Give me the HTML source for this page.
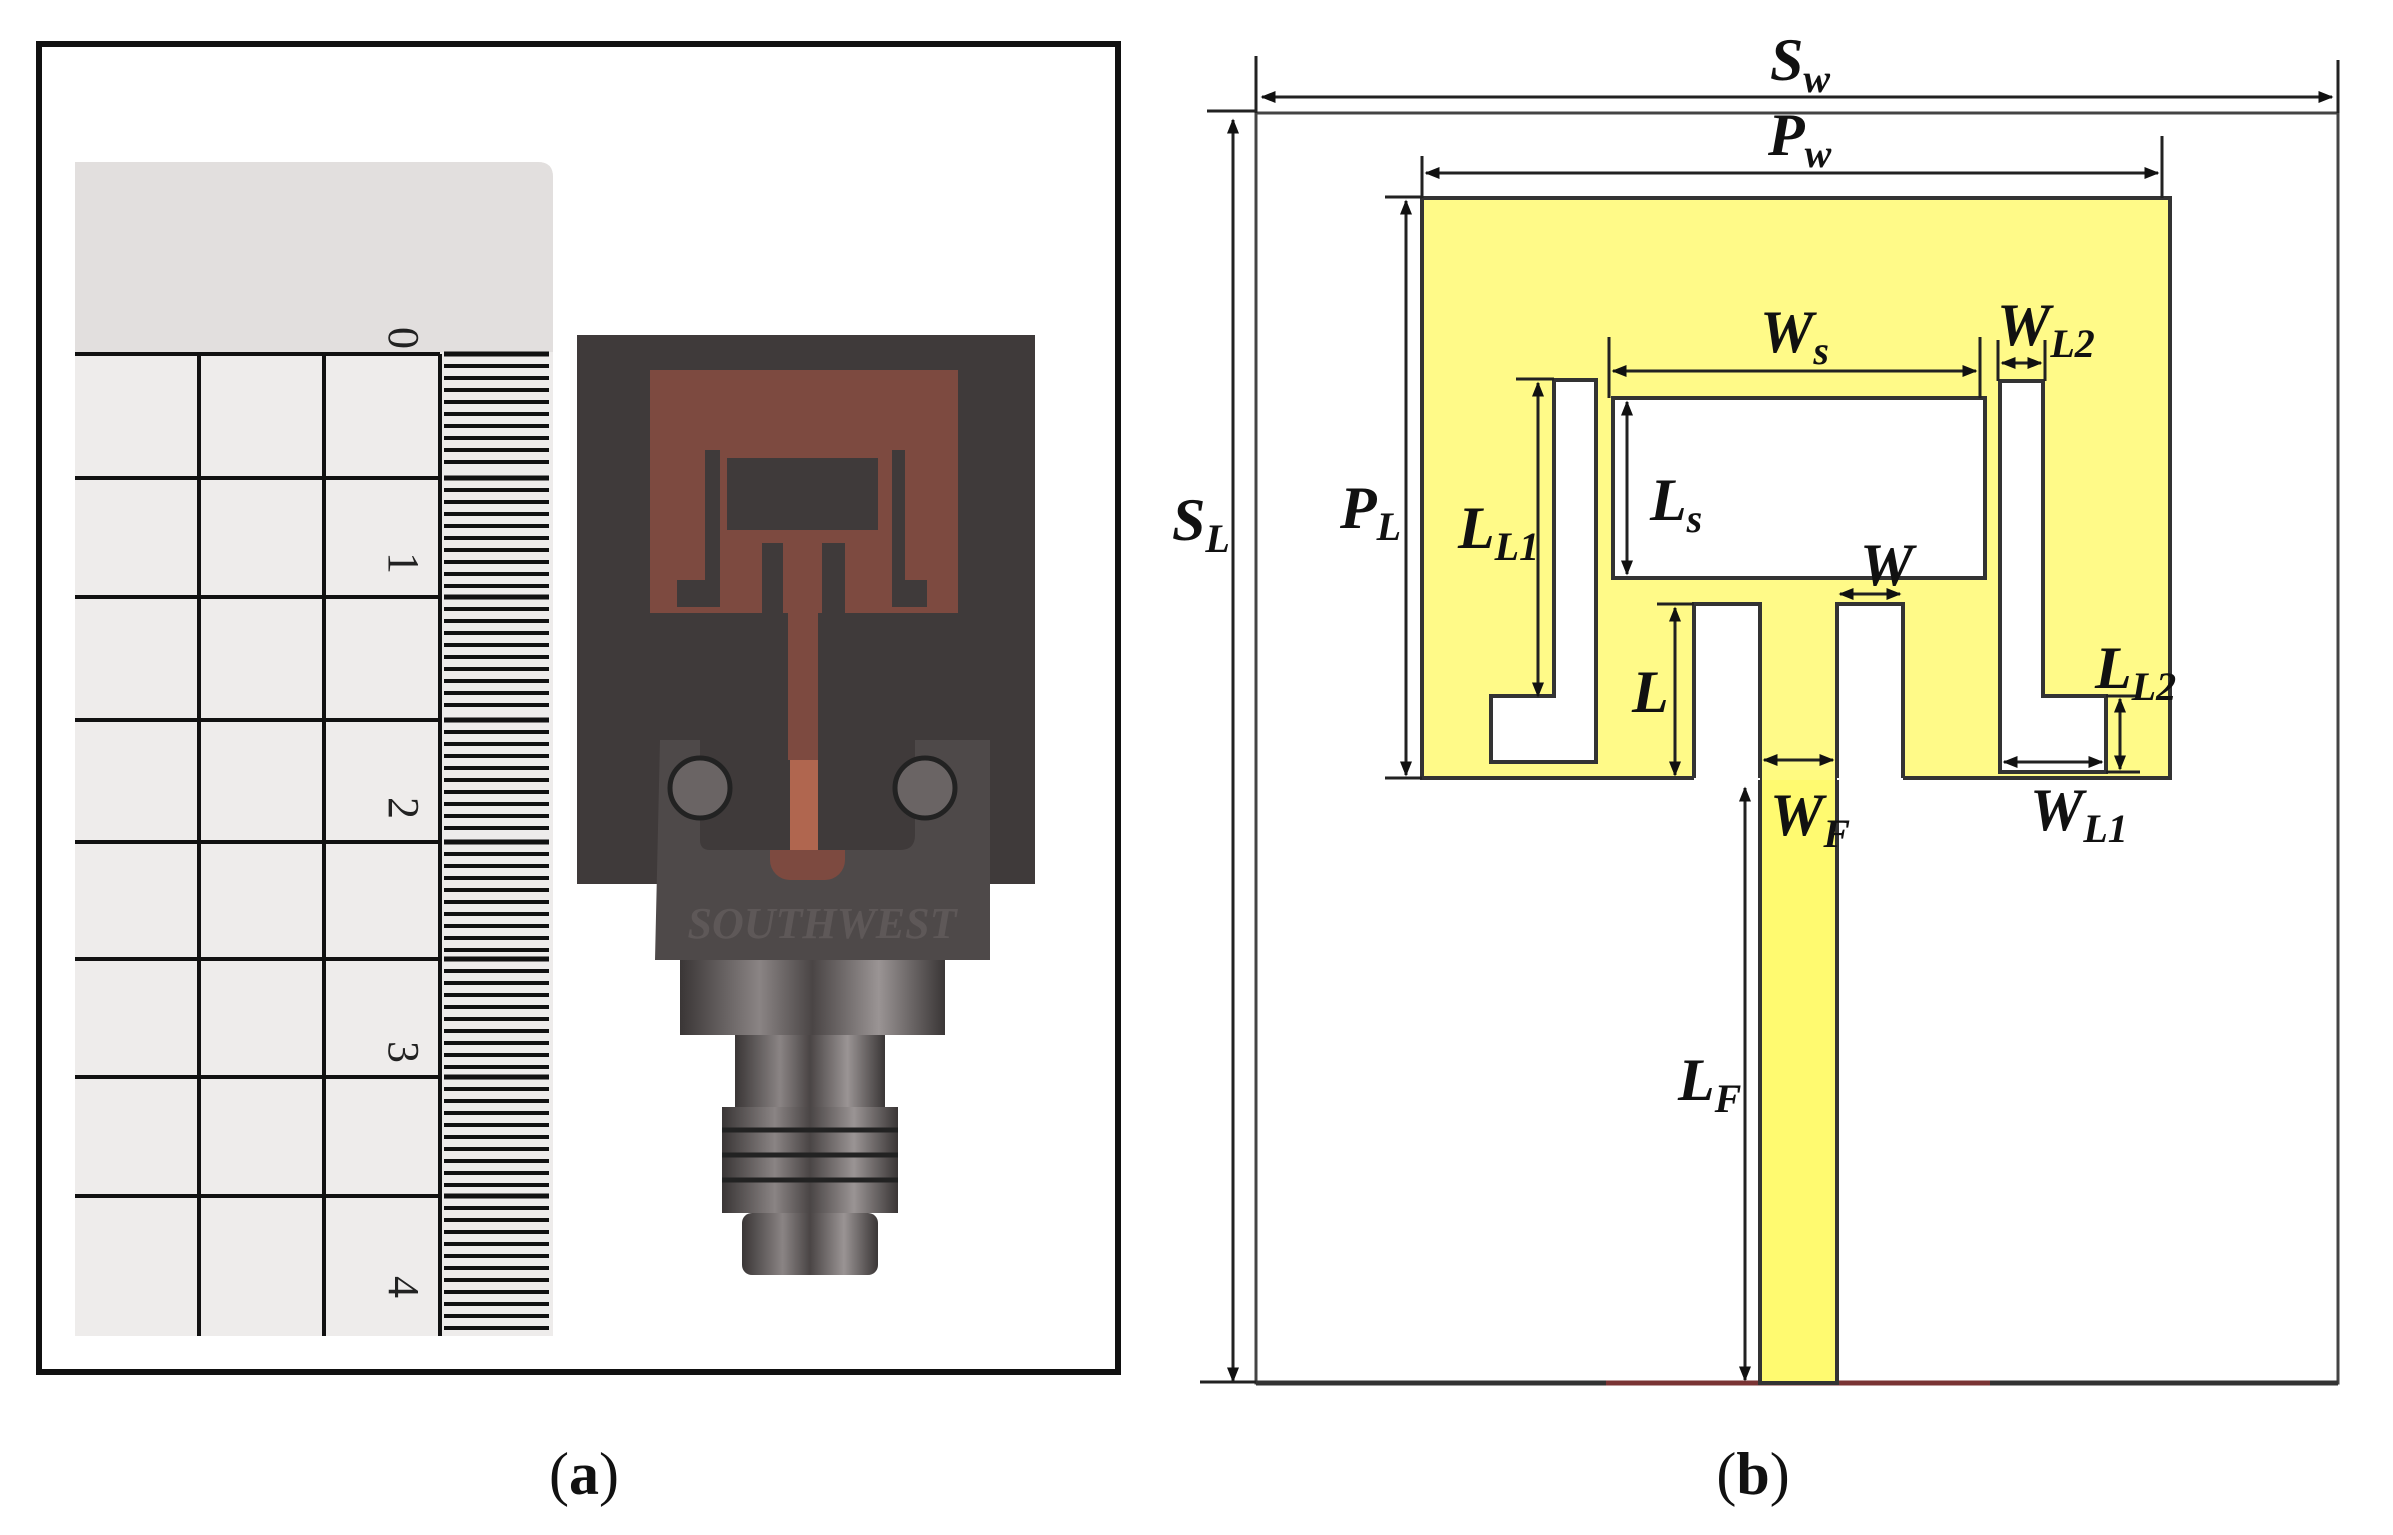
<!DOCTYPE html>
<html><head><meta charset="utf-8"><style>
html,body{margin:0;padding:0;background:#fff;}
svg{display:block;}
text{font-family:"Liberation Serif",serif;}
.lb{font-style:italic;font-weight:bold;font-size:60px;fill:#111;}
.sb{font-size:40px;}
</style></head><body>
<svg width="2393" height="1535" viewBox="0 0 2393 1535" xmlns="http://www.w3.org/2000/svg">
<defs>
<marker id="a" viewBox="0 0 10 10" refX="9" refY="5" markerWidth="5" markerHeight="5" orient="auto-start-reverse"><path d="M0,1 L10,5 L0,9 z" fill="#111"/></marker>
<linearGradient id="met" x1="0" x2="1"><stop offset="0" stop-color="#3a3636"/><stop offset="0.3" stop-color="#8a8484"/><stop offset="0.5" stop-color="#4a4545"/><stop offset="0.75" stop-color="#9a9494"/><stop offset="1" stop-color="#3a3636"/></linearGradient>
</defs>
<!-- panel a -->
<rect x="39" y="44" width="1079" height="1328" fill="#fff" stroke="#111" stroke-width="6"/>
<path d="M75,162 H538 Q553,162 553,177 V1336 H75 Z" fill="#eeeceb"/>
<path d="M75,162 H538 Q553,162 553,177 V352 H75 Z" fill="#e2dfde"/>
<g stroke="#111" stroke-width="4">
<line x1="75" y1="354" x2="440" y2="354"/><line x1="75" y1="478" x2="440" y2="478"/><line x1="75" y1="597" x2="440" y2="597"/><line x1="75" y1="720" x2="440" y2="720"/><line x1="75" y1="842" x2="440" y2="842"/><line x1="75" y1="959" x2="440" y2="959"/><line x1="75" y1="1077" x2="440" y2="1077"/><line x1="75" y1="1196" x2="440" y2="1196"/>
<line x1="199" y1="354" x2="199" y2="1336"/><line x1="324" y1="354" x2="324" y2="1336"/><line x1="440" y1="354" x2="440" y2="1336"/>
<line x1="372" y1="478" x2="440" y2="478"/><line x1="372" y1="720" x2="440" y2="720"/><line x1="372" y1="959" x2="440" y2="959"/><line x1="372" y1="1196" x2="440" y2="1196"/>
</g>
<g stroke="#111" stroke-width="4">
<path d="M444,366 H549 M444,378 H549 M444,390 H549 M444,402 H549 M444,414 H549 M444,426 H549 M444,438 H549 M444,450 H549 M444,462 H549 M444,490 H549 M444,502 H549 M444,514 H549 M444,526 H549 M444,538 H549 M444,550 H549 M444,562 H549 M444,574 H549 M444,586 H549 M444,609 H549 M444,621 H549 M444,633 H549 M444,645 H549 M444,657 H549 M444,669 H549 M444,681 H549 M444,693 H549 M444,705 H549 M444,732 H549 M444,744 H549 M444,756 H549 M444,768 H549 M444,780 H549 M444,792 H549 M444,804 H549 M444,816 H549 M444,828 H549 M444,854 H549 M444,866 H549 M444,878 H549 M444,890 H549 M444,902 H549 M444,914 H549 M444,926 H549 M444,938 H549 M444,950 H549 M444,971 H549 M444,983 H549 M444,995 H549 M444,1007 H549 M444,1019 H549 M444,1031 H549 M444,1043 H549 M444,1055 H549 M444,1067 H549 M444,1089 H549 M444,1101 H549 M444,1113 H549 M444,1125 H549 M444,1137 H549 M444,1149 H549 M444,1161 H549 M444,1173 H549 M444,1185 H549 M444,1208 H549 M444,1220 H549 M444,1232 H549 M444,1244 H549 M444,1256 H549 M444,1268 H549 M444,1280 H549 M444,1292 H549 M444,1304 H549 M444,1316 H549 M444,1328 H549"/>
<path d="M444,354 H549 M444,478 H549 M444,597 H549 M444,720 H549 M444,842 H549 M444,959 H549 M444,1077 H549 M444,1196 H549" stroke-width="5"/>
</g>
<g font-size="44" fill="#222">
<text transform="translate(389,338) rotate(90)" text-anchor="middle">0</text>
<text transform="translate(389,563) rotate(90)" text-anchor="middle">1</text>
<text transform="translate(389,808) rotate(90)" text-anchor="middle">2</text>
<text transform="translate(389,1052) rotate(90)" text-anchor="middle">3</text>
<text transform="translate(389,1287) rotate(90)" text-anchor="middle">4</text>
</g>
<!-- PCB -->
<rect x="577" y="335" width="458" height="549" fill="#3f3a3a"/>
<path d="M650,370 H958 V613 H845 V543 H822 V613 H818 V870 H788 V613 H783 V543 H762 V613 H650 Z" fill="#7d4a40"/>
<rect x="727" y="458" width="151" height="72" fill="#3f3a3a"/>
<path d="M705,450 H720 V607 H677 V580 H705 Z" fill="#3f3a3a"/>
<path d="M892,450 H905 V580 H927 V607 H892 Z" fill="#3f3a3a"/>
<!-- connector -->
<path d="M660,740 H700 V760 H915 V740 H990 V960 H655 Z" fill="#4e4949"/>
<rect x="770" y="760" width="75" height="120" rx="20" fill="#7d4a40"/>
<path d="M700,760 V840 Q700,850 710,850 H900 Q915,850 915,835 V760 Z" fill="#3f3a3a"/>
<rect x="790" y="760" width="28" height="90" fill="#b0664f"/>
<circle cx="700" cy="788" r="30" fill="#6a6464" stroke="#222" stroke-width="5"/>
<circle cx="925" cy="788" r="30" fill="#6a6464" stroke="#222" stroke-width="5"/>
<text x="822" y="938" font-size="44" font-weight="bold" font-style="italic" fill="#5e5858" text-anchor="middle">SOUTHWEST</text>
<rect x="680" y="960" width="265" height="75" fill="url(#met)"/>
<rect x="735" y="1035" width="150" height="75" fill="url(#met)"/>
<rect x="722" y="1107" width="176" height="106" fill="url(#met)"/>
<g stroke="#222" stroke-width="5"><line x1="722" y1="1130" x2="898" y2="1130"/><line x1="722" y1="1155" x2="898" y2="1155"/><line x1="722" y1="1180" x2="898" y2="1180"/></g>
<rect x="742" y="1213" width="136" height="62" rx="10" fill="url(#met)"/>
<text x="584" y="1494" font-size="60" text-anchor="middle" fill="#111">(<tspan font-weight="bold">a</tspan>)</text>
<!-- panel b -->
<rect x="1256" y="113" width="1082" height="1270" fill="#fff" stroke="#444" stroke-width="3"/>
<line x1="1256" y1="1383" x2="2338" y2="1383" stroke="#333" stroke-width="5"/>
<line x1="1606" y1="1383" x2="1990" y2="1383" stroke="#7a3434" stroke-width="5"/>
<!-- patch -->
<rect x="1422" y="198" width="748" height="580" fill="#fffa88" stroke="#333" stroke-width="4"/>
<rect x="1760" y="776" width="77" height="607" fill="#fffa70" stroke="#333" stroke-width="4"/>
<rect x="1762" y="770" width="73" height="10" fill="#fffa80"/>
<rect x="1613" y="398" width="372" height="180" fill="#fff" stroke="#333" stroke-width="4"/>
<path d="M1554,380 H1596 V762 H1491 V696 H1554 Z" fill="#fff" stroke="#333" stroke-width="4"/>
<path d="M2000,381 H2043 V696 H2106 V772 H2000 Z" fill="#fff" stroke="#333" stroke-width="4"/>
<rect x="1694" y="604" width="66" height="176" fill="#fff"/>
<path d="M1694,778 V604 H1760 V778" fill="none" stroke="#333" stroke-width="4"/>
<rect x="1837" y="604" width="66" height="176" fill="#fff"/>
<path d="M1837,778 V604 H1903 V778" fill="none" stroke="#333" stroke-width="4"/>
<!-- dimension lines -->
<g stroke="#222" stroke-width="3" fill="none">
<line x1="1256" y1="56" x2="1256" y2="113"/><line x1="2338" y1="60" x2="2338" y2="113"/>
<line x1="1262" y1="97" x2="2332" y2="97" marker-start="url(#a)" marker-end="url(#a)"/>
<line x1="1207" y1="111" x2="1256" y2="111"/>
<line x1="1233" y1="120" x2="1233" y2="1381" marker-start="url(#a)" marker-end="url(#a)"/>
<line x1="1200" y1="1382" x2="1256" y2="1382"/>
<line x1="1422" y1="156" x2="1422" y2="198"/><line x1="2162" y1="136" x2="2162" y2="198"/>
<line x1="1426" y1="173" x2="2158" y2="173" marker-start="url(#a)" marker-end="url(#a)"/>
<line x1="1385" y1="197" x2="1422" y2="197"/><line x1="1385" y1="778" x2="1422" y2="778"/>
<line x1="1406" y1="201" x2="1406" y2="775" marker-start="url(#a)" marker-end="url(#a)"/>
<line x1="1609" y1="337" x2="1609" y2="398"/><line x1="1980" y1="337" x2="1980" y2="398"/>
<line x1="1613" y1="371" x2="1976" y2="371" marker-start="url(#a)" marker-end="url(#a)"/>
<line x1="1627" y1="402" x2="1627" y2="574" marker-start="url(#a)" marker-end="url(#a)"/>
<line x1="1516" y1="379" x2="1554" y2="379"/>
<line x1="1538" y1="383" x2="1538" y2="696" marker-start="url(#a)" marker-end="url(#a)"/>
<line x1="1998" y1="340" x2="1998" y2="381"/><line x1="2045" y1="340" x2="2045" y2="381"/>
<line x1="2002" y1="363" x2="2041" y2="363" marker-start="url(#a)" marker-end="url(#a)"/>
<line x1="2106" y1="696" x2="2140" y2="696"/><line x1="2106" y1="772" x2="2140" y2="772"/>
<line x1="2120" y1="699" x2="2120" y2="769" marker-start="url(#a)" marker-end="url(#a)"/>
<line x1="2004" y1="762" x2="2102" y2="762" marker-start="url(#a)" marker-end="url(#a)"/>
<line x1="1657" y1="604" x2="1694" y2="604"/>
<line x1="1675" y1="608" x2="1675" y2="775" marker-start="url(#a)" marker-end="url(#a)"/>
<line x1="1840" y1="594" x2="1900" y2="594" marker-start="url(#a)" marker-end="url(#a)"/>
<line x1="1764" y1="760" x2="1833" y2="760" marker-start="url(#a)" marker-end="url(#a)"/>
<line x1="1745" y1="788" x2="1745" y2="1380" marker-start="url(#a)" marker-end="url(#a)"/>
</g>
<!-- labels -->
<text class="lb" x="1770" y="80">S<tspan class="sb" dy="12">w</tspan></text>
<text class="lb" x="1768" y="155">P<tspan class="sb" dy="12">w</tspan></text>
<text class="lb" x="1172" y="540">S<tspan class="sb" dy="12">L</tspan></text>
<text class="lb" x="1340" y="528">P<tspan class="sb" dy="12">L</tspan></text>
<text class="lb" x="1458" y="548">L<tspan class="sb" dy="12">L1</tspan></text>
<text class="lb" x="1650" y="520">L<tspan class="sb" dy="12">s</tspan></text>
<text class="lb" x="1760" y="352">W<tspan class="sb" dy="12">s</tspan></text>
<text class="lb" x="1997" y="345">W<tspan class="sb" dy="12">L2</tspan></text>
<text class="lb" x="1860" y="585">W</text>
<text class="lb" x="1632" y="712">L</text>
<text class="lb" x="2095" y="688">L<tspan class="sb" dy="12">L2</tspan></text>
<text class="lb" x="2030" y="830">W<tspan class="sb" dy="12">L1</tspan></text>
<text class="lb" x="1770" y="835">W<tspan class="sb" dy="12">F</tspan></text>
<text class="lb" x="1678" y="1100">L<tspan class="sb" dy="12">F</tspan></text>
<text x="1753" y="1494" font-size="60" text-anchor="middle" fill="#111">(<tspan font-weight="bold">b</tspan>)</text>
</svg>
</body></html>
